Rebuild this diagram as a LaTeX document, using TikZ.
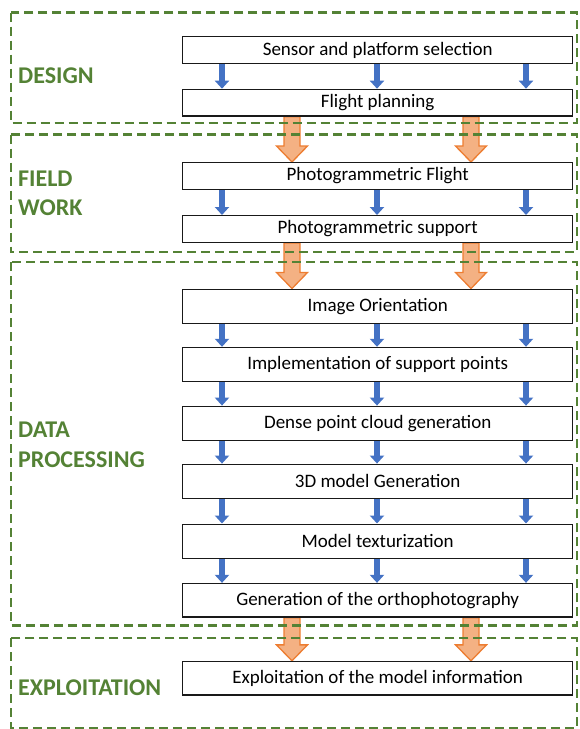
\documentclass[tikz,border=0pt]{standalone}
\usepackage{fontspec}
\setmainfont{Carlito}
\usetikzlibrary{arrows.meta,calc}
\definecolor{grn}{HTML}{548235}
\definecolor{blu}{HTML}{4472C4}
\definecolor{orgline}{HTML}{ED7D31}
\definecolor{orgfill}{HTML}{F4B183}
\pgfdeclarelayer{arrowlayer}
\pgfdeclarelayer{framelayer}
\pgfsetlayers{arrowlayer,framelayer,main}
\newcommand{\orangeflow}[3]{%
  \path[orangearr] let \p1=(#1.south), \p2=(#2.north) in
   ({#3-8},\y1) -- ({#3-8},\y2+16pt) -- ({#3-15.5},\y2+16pt) -- (#3,\y2)
   -- ({#3+15.5},\y2+16pt) -- ({#3+8},\y2+16pt) -- ({#3+8},\y1) -- cycle;}
\newcommand{\blueflow}[2]{%
  \foreach \cx in {cL,cM,cR} {\draw[bluearr] (#1.south -| \cx) -- (#2.north -| \cx);}}
\begin{document}
\begin{tikzpicture}[x=1pt,y=-1pt,
  stepbox/.style={draw=black!90,line width=1.4pt,fill=white,minimum width=390pt,inner sep=0pt,
    font=\fontsize{19}{22}\selectfont,text=black},
  phase/.style={draw=grn,line width=2.1pt,dash pattern=on 9pt off 5pt},
  phaselabel/.style={anchor=west,inner sep=0pt,align=left,text=grn,
    font=\fontsize{24}{29.3}\selectfont\bfseries},
  bluearr/.style={draw=blu,line width=6pt,-{Triangle[width=14pt,length=8pt]}},
  orangearr/.style={draw=orgline,fill=orgfill,line width=1.3pt,line join=miter}]
\useasboundingbox (0,0) rectangle (579,729);

\coordinate (cL) at (222,0);
\coordinate (cM) at (377,0);
\coordinate (cR) at (526,0);

% process steps
\node[stepbox,minimum height=26.6pt] (s1) at (377.7,50) {Sensor and platform selection};
\node[stepbox,minimum height=26.6pt] (s2) at (377.7,102.7) {Flight planning};
\node[stepbox,minimum height=26.6pt] (s3) at (377.7,176) {Photogrammetric Flight};
\node[stepbox,minimum height=26.6pt] (s4) at (377.7,229) {Photogrammetric support};
\node[stepbox,minimum height=34pt] (s5) at (377.7,306.2) {Image Orientation};
\node[stepbox,minimum height=34pt] (s6) at (377.7,364.5) {Implementation of support points};
\node[stepbox,minimum height=34pt] (s7) at (377.7,423.3) {Dense point cloud generation};
\node[stepbox,minimum height=34pt] (s8) at (377.7,481.3) {3D model Generation};
\node[stepbox,minimum height=34pt] (s9) at (377.7,541.2) {Model texturization};
\node[stepbox,minimum height=33.5pt] (s10) at (377.7,600.3) {Generation of the orthophotography};
\node[stepbox,minimum height=33.5pt] (s11) at (377.7,678.3) {Exploitation of the model information};

% phase labels
\node[phaselabel] (l1) at (18,75.5) {DESIGN};
\node[phaselabel] (l2) at (18,193.6) {FIELD\\WORK};
\node[phaselabel] (l3) at (18,444.7) {DATA\\PROCESSING};
\node[phaselabel] (l4) at (18,687.5) {EXPLOITATION};

\begin{pgfonlayer}{arrowlayer}
\blueflow{s1}{s2}
\blueflow{s3}{s4}
\blueflow{s5}{s6}
\blueflow{s6}{s7}
\blueflow{s7}{s8}
\blueflow{s8}{s9}
\blueflow{s9}{s10}
\foreach \ox in {292,471} {
  \orangeflow{s2}{s3}{\ox}
  \orangeflow{s4}{s5}{\ox}
  \orangeflow{s10}{s11}{\ox}
}
\end{pgfonlayer}

\begin{pgfonlayer}{framelayer}
\draw[phase] (11,12.5) rectangle (576.7,123);
\draw[phase] (11,134.5) rectangle (576.7,252.3);
\draw[phase] (11,262.3) rectangle (576.7,625.5);
\draw[phase] (11,638) rectangle (576.7,728);
\end{pgfonlayer}
\end{tikzpicture}
\end{document}
